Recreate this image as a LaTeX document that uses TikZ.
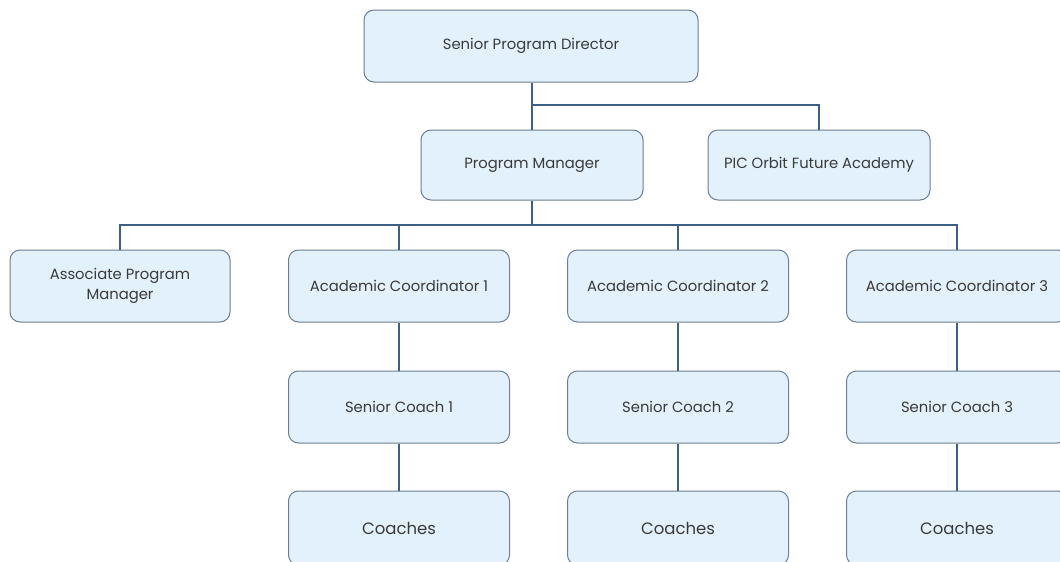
\documentclass[tikz,border=0pt]{standalone}
\usepackage{fontspec}
\setmainfont{Poppins}
\definecolor{boxfill}{HTML}{E2F1FB}
\definecolor{boxline}{HTML}{6A7F95}
\definecolor{conn}{HTML}{3E5F86}
\definecolor{txt}{HTML}{3A3A3A}
\begin{document}
\begin{tikzpicture}[x=1pt,y=-1pt,
  orgbox/.style={draw=boxline, line width=1pt, fill=boxfill, rounded corners=10pt,
    minimum height=72pt, align=center, text=txt, font=\fontsize{14.8}{19.5}\selectfont, inner sep=2pt},
  coachbox/.style={orgbox, minimum width=221pt, minimum height=74pt, font=\fontsize{16.5}{20}\selectfont},
  conline/.style={draw=conn, line width=1.3pt}]
\clip (0,0) rectangle (1060,562);
\fill[white] (0,0) rectangle (1060,562);
% row 1
\node[orgbox, minimum width=334pt] (spd) at (531,46) {Senior Program Director};
% row 2
\node[orgbox, minimum width=222pt, minimum height=70pt] (pm) at (532,165) {Program Manager};
\node[orgbox, minimum width=222pt, minimum height=70pt] (pic) at (819,165) {PIC Orbit Future Academy};
% row 3
\node[orgbox, minimum width=220pt] (apm) at (120,286) {Associate Program\\Manager};
\node[orgbox, minimum width=221pt] (ac1) at (399,286) {Academic Coordinator 1};
\node[orgbox, minimum width=221pt] (ac2) at (678,286) {Academic Coordinator 2};
\node[orgbox, minimum width=221pt] (ac3) at (957,286) {Academic Coordinator 3};
% row 4
\node[orgbox, minimum width=221pt] (sc1) at (399,407) {Senior Coach 1};
\node[orgbox, minimum width=221pt] (sc2) at (678,407) {Senior Coach 2};
\node[orgbox, minimum width=221pt] (sc3) at (957,407) {Senior Coach 3};
% row 5
\node[coachbox] (co1) at (399,528) {Coaches};
\node[coachbox] (co2) at (678,528) {Coaches};
\node[coachbox] (co3) at (957,528) {Coaches};
% connectors
\coordinate (j1) at (532,105);
\coordinate (j2) at (532,225);
\draw[conline] (spd.south -| j1) -- (pm.north);
\draw[conline] (j1) -| (pic.north);
\draw[conline] (pm.south) -- (j2);
\draw[conline] (j2) -| (apm.north);
\draw[conline] (j2) -| (ac1.north);
\draw[conline] (j2) -| (ac2.north);
\draw[conline] (j2) -| (ac3.north);
\draw[conline] (ac1.south) -- (sc1.north);
\draw[conline] (ac2.south) -- (sc2.north);
\draw[conline] (ac3.south) -- (sc3.north);
\draw[conline] (sc1.south) -- (co1.north);
\draw[conline] (sc2.south) -- (co2.north);
\draw[conline] (sc3.south) -- (co3.north);
\end{tikzpicture}
\end{document}
